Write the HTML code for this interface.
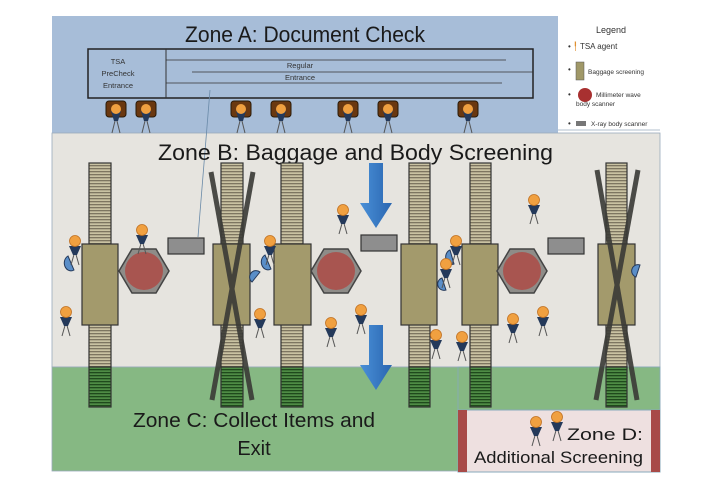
<!DOCTYPE html>
<html><head><meta charset="utf-8"><style>html,body{margin:0;padding:0;background:#fff}svg{display:block}</style></head>
<body>
<svg width="718" height="491" viewBox="0 0 718 491" xmlns="http://www.w3.org/2000/svg" font-family="Liberation Sans, sans-serif">
<defs>
<pattern id="st" width="4" height="3" patternUnits="userSpaceOnUse"><rect width="4" height="3" fill="#c9c2a2"/><rect width="4" height="1.3" fill="#7d7560"/></pattern>
<pattern id="sg" width="4" height="3" patternUnits="userSpaceOnUse"><rect width="4" height="3" fill="#4f8c45"/><rect width="4" height="1.3" fill="#1f4a1c"/></pattern>
<linearGradient id="bl" x1="0" x2="1"><stop offset="0" stop-color="#4a90d8"/><stop offset="1" stop-color="#2a66b0"/></linearGradient>
<g id="p"><line x1="0" y1="10" x2="-4" y2="24" stroke="#555" stroke-width="1"/><line x1="0" y1="10" x2="4" y2="24" stroke="#555" stroke-width="1"/><path d="M-6,5 L6,5 L2,14 L-2,14 Z" fill="#24395a"/><circle cx="0" cy="0" r="5.5" fill="#f0a040" stroke="#c07020" stroke-width="0.8"/></g>
<g id="a"><rect x="-10" y="-8" width="20" height="16" rx="3" fill="#6a3810" stroke="#2a1a08"/><line x1="0" y1="8" x2="-4" y2="24" stroke="#555"/><line x1="0" y1="8" x2="4" y2="24" stroke="#555"/><path d="M-5,2 L5,2 L2,12 L-2,12 Z" fill="#24395a"/><circle cx="0" cy="0" r="5" fill="#f0a040"/></g>
<g id="hx"><polygon points="-25,0 -12,-22 12,-22 25,0 12,22 -12,22" fill="#8e8c88" stroke="#444" stroke-width="1.5"/><circle r="19" fill="#a85550"/></g>
</defs>
<rect x="52" y="16" width="506" height="117" fill="#a7bdd8"/>
<rect x="52" y="133" width="608" height="234" fill="#e6e4df" stroke="#9ab" stroke-width="0.8"/>
<rect x="52" y="367" width="608" height="104" fill="#86b883" stroke="#9ab" stroke-width="0.8"/>
<rect x="458" y="367" width="202" height="104" fill="#86b883" stroke="#8ab" stroke-width="0.8"/>
<rect x="458" y="410" width="202" height="62" fill="#eee0e0" stroke="#8ab"/>
<rect x="458" y="410" width="9" height="62" fill="#a84a48"/><rect x="651" y="410" width="9" height="62" fill="#a84a48"/>
<text x="185" y="42" font-size="22" fill="#1a1a1a" textLength="240" lengthAdjust="spacingAndGlyphs">Zone A: Document Check</text>
<rect x="88" y="49" width="445" height="49" fill="none" stroke="#222" stroke-width="1.5"/>
<line x1="166" y1="49" x2="166" y2="98" stroke="#333"/>
<line x1="166" y1="60" x2="506" y2="60" stroke="#333" stroke-width="0.8"/><line x1="192" y1="72" x2="533" y2="72" stroke="#333" stroke-width="0.8"/><line x1="166" y1="83" x2="502" y2="83" stroke="#333" stroke-width="0.8"/>
<g font-size="7.5" fill="#333" text-anchor="middle"><text x="118" y="64">TSA</text><text x="118" y="76">PreCheck</text><text x="118" y="88">Entrance</text><text x="300" y="68">Regular</text><text x="300" y="80">Entrance</text></g>
<line x1="210" y1="90" x2="198" y2="237" stroke="#6a8aa8" stroke-width="0.8"/>
<use href="#a" x="116" y="109"/><use href="#a" x="146" y="109"/><use href="#a" x="241" y="109"/><use href="#a" x="281" y="109"/><use href="#a" x="348" y="109"/><use href="#a" x="388" y="109"/><use href="#a" x="468" y="109"/>
<g font-size="8" fill="#333"><text x="596" y="33" font-size="9">Legend</text><text x="568" y="49">• <tspan fill="#e09030">╿</tspan> TSA agent</text>
<text x="568" y="72">•</text><rect x="576" y="62" width="8" height="18" fill="#a09868" stroke="#555" stroke-width="0.5"/><text x="588" y="74" font-size="6.5">Baggage screening</text>
<text x="568" y="97">•</text><circle cx="585" cy="95" r="7" fill="#a83030"/><text x="596" y="97" font-size="6.5">Millimeter wave</text><text x="576" y="106" font-size="6.5">body scanner</text>
<text x="568" y="126">•</text><rect x="576" y="121" width="10" height="5" fill="#777"/><text x="591" y="126" font-size="6.5">X-ray body scanner</text></g>
<line x1="558" y1="130" x2="660" y2="130" stroke="#9ab" stroke-width="0.8"/>
<text x="158" y="160" font-size="22" fill="#1a1a1a" textLength="395" lengthAdjust="spacingAndGlyphs">Zone B: Baggage and Body Screening</text>
<g stroke="#333" stroke-width="1.2">
<rect x="89" y="163" width="22" height="204" fill="url(#st)"/><rect x="89" y="367" width="22" height="40" fill="url(#sg)"/>
<rect x="221" y="163" width="22" height="204" fill="url(#st)"/><rect x="221" y="367" width="22" height="40" fill="url(#sg)"/>
<rect x="281" y="163" width="22" height="204" fill="url(#st)"/><rect x="281" y="367" width="22" height="40" fill="url(#sg)"/>
<rect x="409" y="163" width="21" height="204" fill="url(#st)"/><rect x="409" y="367" width="21" height="40" fill="url(#sg)"/>
<rect x="470" y="163" width="21" height="204" fill="url(#st)"/><rect x="470" y="367" width="21" height="40" fill="url(#sg)"/>
<rect x="606" y="163" width="21" height="204" fill="url(#st)"/><rect x="606" y="367" width="21" height="40" fill="url(#sg)"/>
<rect x="82" y="244" width="36" height="81" fill="#a39a6c"/><rect x="213" y="244" width="37" height="81" fill="#a39a6c"/><rect x="274" y="244" width="37" height="81" fill="#a39a6c"/>
<rect x="401" y="244" width="36" height="81" fill="#a39a6c"/><rect x="462" y="244" width="36" height="81" fill="#a39a6c"/><rect x="598" y="244" width="37" height="81" fill="#a39a6c"/>
<rect x="168" y="238" width="36" height="16" fill="#8e8e8e"/><rect x="361" y="235" width="36" height="16" fill="#8e8e8e"/><rect x="548" y="238" width="36" height="16" fill="#8e8e8e"/>
</g>
<use href="#hx" x="144" y="271"/><use href="#hx" x="336" y="271"/><use href="#hx" x="522" y="271"/>
<g stroke="#3a3a36" stroke-width="5" opacity="0.9"><line x1="211" y1="172" x2="252" y2="400"/><line x1="253" y1="172" x2="212" y2="400"/><line x1="597" y1="170" x2="637" y2="400"/><line x1="638" y1="170" x2="596" y2="400"/></g>
<g fill="url(#bl)"><path d="M369,163 H383 V203 H392 L376,228 L360,203 H369 Z"/><path d="M369,325 H383 V365 H392 L376,390 L360,365 H369 Z"/></g>
<g fill="#5a8ec8" stroke="#24395a" stroke-width="1"><path d="M68,256 a6,7 0 1,0 6,14 Z"/><path d="M265,255 a6,7 0 1,0 6,14 Z"/><path d="M260,272 a6,6 0 0,0 -8,10 Z"/><path d="M450,250 a6,7 0 1,0 4,14 Z"/><path d="M442,278 a6,6 0 1,0 4,12 Z"/><path d="M640,265 a6,6 0 0,0 -4,12 Z"/></g>
<use href="#p" x="75" y="241"/><use href="#p" x="142" y="230"/><use href="#p" x="66" y="312"/><use href="#p" x="270" y="241"/><use href="#p" x="260" y="314"/><use href="#p" x="331" y="323"/><use href="#p" x="343" y="210"/><use href="#p" x="361" y="310"/><use href="#p" x="456" y="241"/><use href="#p" x="446" y="264"/><use href="#p" x="436" y="335"/><use href="#p" x="462" y="337"/><use href="#p" x="513" y="319"/><use href="#p" x="534" y="200"/><use href="#p" x="543" y="312"/><use href="#p" x="536" y="422"/><use href="#p" x="557" y="417"/>
<text x="133" y="427" font-size="20" fill="#1a1a1a" textLength="242" lengthAdjust="spacingAndGlyphs">Zone C: Collect Items and</text>
<text x="254" y="455" font-size="20" text-anchor="middle" fill="#1a1a1a">Exit</text>
<text x="567" y="440" font-size="17" fill="#1a1a1a" textLength="76" lengthAdjust="spacingAndGlyphs">Zone D:</text>
<text x="474" y="463" font-size="17" fill="#1a1a1a" textLength="169" lengthAdjust="spacingAndGlyphs">Additional Screening</text>
</svg>
</body></html>
